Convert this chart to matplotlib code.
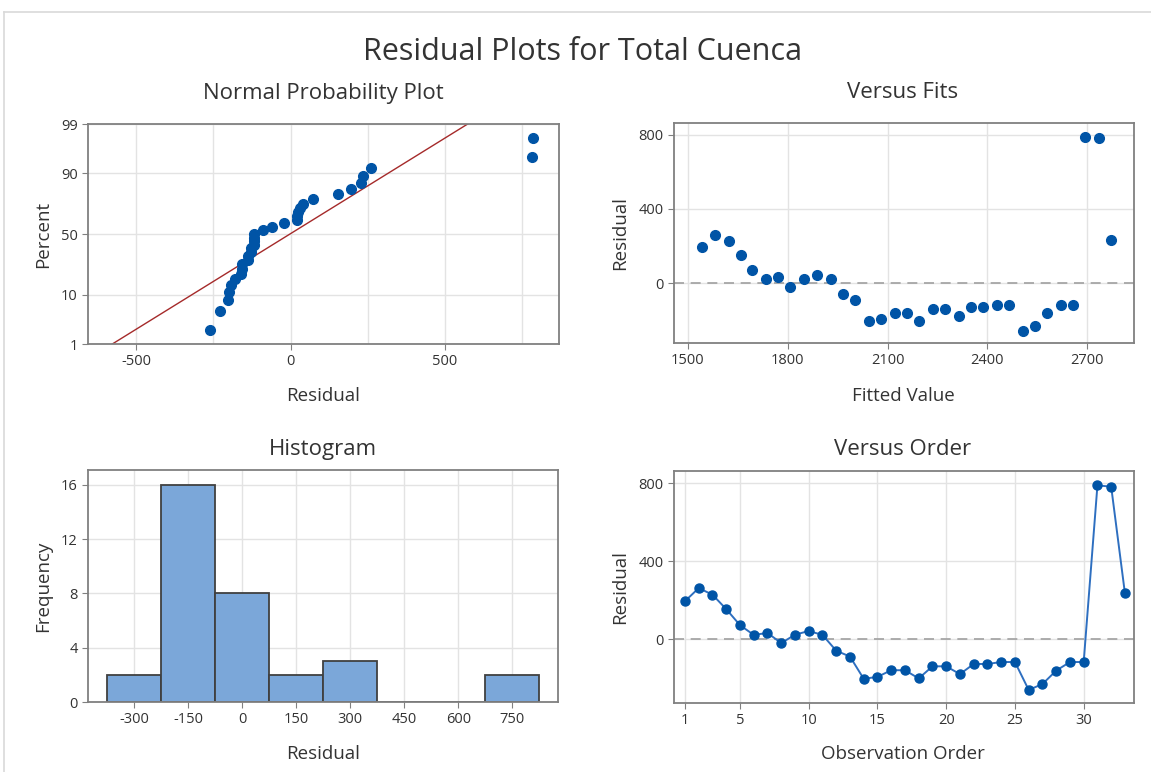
import numpy as np
import matplotlib
matplotlib.use("Agg")
import matplotlib.pyplot as plt
from matplotlib.lines import Line2D
from statistics import NormalDist

# Residuos (orden de observacion 1..33)
observation = list(range(1, 34))
fitted = [1543, 1580, 1622, 1659, 1694, 1735, 1772, 1808, 1850, 1887, 1930,
          1965, 2001, 2044, 2080, 2123, 2159, 2194, 2236, 2273, 2315, 2351,
          2388, 2429, 2466, 2508, 2544, 2580, 2621, 2659, 2695, 2736, 2773]
residual = [195, 262, 228, 154, 72, 22, 32, -20, 23, 42, 22,
            -59, -89, -203, -193, -159, -159, -201, -139, -139, -179, -127,
            -127, -117, -117, -260, -230, -161, -117, -117, 788, 782, 235]

hist_bins = [-375, -225, -75, 75, 225, 375, 525, 675, 825]
hist_ticks = [-300, -150, 0, 150, 300, 450, 600, 750]
pct_ticks = [1, 10, 50, 90, 99]

plt.rcParams['font.family'] = ['Open Sans', 'DejaVu Sans']
plt.rcParams['axes.unicode_minus'] = False

W, H = 1151, 772
fig = plt.figure(figsize=(W / 100, H / 100), dpi=100)

BLUE = "#0054a6"
LINE_BLUE = "#2e6fc0"
GRID = "#e3e3e3"
SPINE = "#808080"
TXT = "#333333"


def box(x0, y0, x1, y1):
    return fig.add_axes([x0 / W, 1 - y1 / H, (x1 - x0) / W, (y1 - y0) / H])


def style(ax):
    for s in ax.spines.values():
        s.set_color(SPINE)
        s.set_linewidth(1.3)
    ax.tick_params(colors=SPINE, labelcolor=TXT, labelsize=10.5, length=4, width=0.8)
    ax.tick_params(which='minor', length=0)
    ax.grid(True, which='both', color=GRID, linewidth=1.0)
    ax.set_axisbelow(True)


def ftext(x, y, s, size, **kw):
    fig.text(x / W, 1 - y / H, s, fontsize=size, color=TXT, ha='center', va='center', **kw)


# Normal probability plot
ax1 = box(88, 124, 559, 344)
nd = NormalDist()
n = len(residual)
srt = np.sort(residual)
probs = [(i + 1 - 0.3) / (n + 0.4) for i in range(n)]
zq = [nd.inv_cdf(p) for p in probs]
mu = np.mean(residual)
sd = np.std(residual, ddof=1)
zlo, zhi = nd.inv_cdf(0.01), nd.inv_cdf(0.99)
ax1.plot([mu + sd * zlo, mu + sd * zhi], [zlo, zhi], color="#a52a2a", linewidth=1.0)
ax1.plot(srt, zq, 'o', color=BLUE, markersize=7, clip_on=False)
ax1.set_xlim(-657, 871)
ax1.set_ylim(zlo, zhi)
ax1.set_xticks([-500, 0, 500])
ax1.set_xticks([-250, 250, 750], minor=True)
ax1.set_yticks([nd.inv_cdf(p / 100) for p in pct_ticks])
ax1.set_yticklabels([str(p) for p in pct_ticks])
style(ax1)

# Versus fits
ax2 = box(674, 123, 1134, 343)
ax2.axhline(0, color="#a0a0a0", linestyle=(0, (6, 4)), linewidth=1.2)
ax2.plot(fitted, residual, 'o', color=BLUE, markersize=7)
ax2.set_xlim(1458, 2841)
ax2.set_ylim(-322, 863)
ax2.set_xticks([1500, 1800, 2100, 2400, 2700])
ax2.set_yticks([0, 400, 800])
style(ax2)

# Histogram
ax3 = box(88, 470, 558, 702)
ax3.hist(residual, bins=hist_bins, color="#7ba7d9", edgecolor="#404040", linewidth=1.3)
ax3.set_xlim(-429, 877)
ax3.set_ylim(0, 17.1)
ax3.set_xticks(hist_ticks)
ax3.set_yticks([0, 4, 8, 12, 16])
style(ax3)

# Versus order
ax4 = box(674, 471, 1134, 703)
ax4.axhline(0, color="#a0a0a0", linestyle=(0, (6, 4)), linewidth=1.2)
ax4.plot(observation, residual, '-', color=LINE_BLUE, linewidth=1.4)
ax4.plot(observation, residual, 'o', color=BLUE, markersize=6.5)
ax4.set_xlim(0.2, 33.66)
ax4.set_ylim(-327, 862)
ax4.set_xticks([1, 5, 10, 15, 20, 25, 30])
ax4.set_yticks([0, 400, 800])
style(ax4)

# Textos
ftext(583, 52, "Residual Plots for Total Cuenca", 22)
ftext(323, 93, "Normal Probability Plot", 16)
ftext(903, 93, "Versus Fits", 16)
ftext(323, 450, "Histogram", 16)
ftext(903, 450, "Versus Order", 16)
ftext(323, 396, "Residual", 13.5)
ftext(903, 396, "Fitted Value", 13.5)
ftext(323, 754, "Residual", 13.5)
ftext(903, 754, "Observation Order", 13.5)
ftext(43, 234, "Percent", 13.5, rotation=90)
ftext(620, 233, "Residual", 13.5, rotation=90)
ftext(43, 586, "Frequency", 13.5, rotation=90)
ftext(620, 587, "Residual", 13.5, rotation=90)

# borde de la captura
fig.add_artist(Line2D([4 / W, 1], [1 - 12 / H, 1 - 12 / H], color="#d9d9d9", linewidth=1.2))
fig.add_artist(Line2D([4 / W, 4 / W], [0, 1 - 12 / H], color="#d9d9d9", linewidth=1.2))

fig.savefig("out.png", dpi=100)
